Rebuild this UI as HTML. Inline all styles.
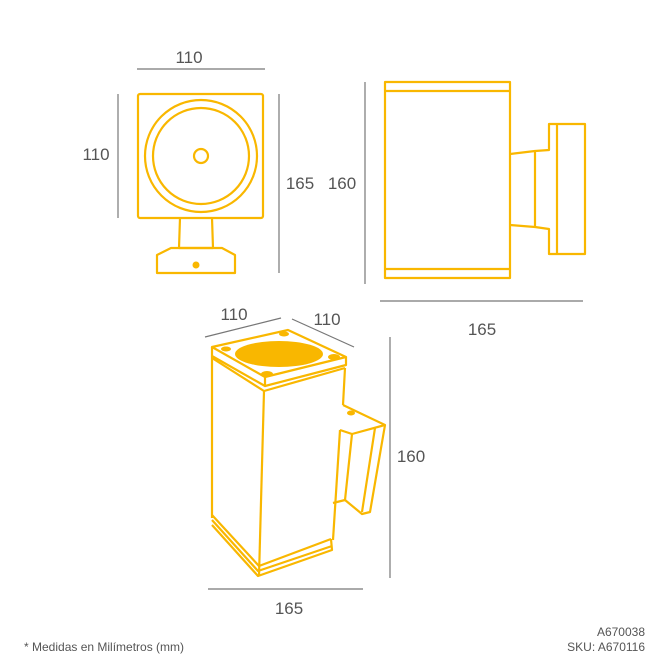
<!DOCTYPE html>
<html><head><meta charset="utf-8"><style>
body{margin:0;background:#fff}
svg{display:block}
text{font-family:"Liberation Sans",sans-serif;fill:#555}
</style></head><body>
<svg width="668" height="667" viewBox="0 0 668 667">
<g stroke="#777" stroke-width="1.2" fill="none">
<line x1="137" y1="69" x2="265" y2="69"/>
<line x1="118" y1="94" x2="118" y2="218"/>
<line x1="279" y1="94" x2="279" y2="273"/>
<line x1="365" y1="82" x2="365" y2="284"/>
<line x1="380" y1="301" x2="583" y2="301"/>
<line x1="205" y1="337" x2="281" y2="318"/>
<line x1="292" y1="319" x2="354" y2="347"/>
<line x1="390" y1="337" x2="390" y2="578"/>
<line x1="208" y1="589" x2="363" y2="589"/>
</g>
<g font-size="17">
<text x="189" y="63" text-anchor="middle">110</text>
<text x="96" y="160" text-anchor="middle">110</text>
<text x="300" y="189" text-anchor="middle">165</text>
<text x="342" y="189" text-anchor="middle">160</text>
<text x="482" y="335" text-anchor="middle">165</text>
<text x="234" y="320" text-anchor="middle">110</text>
<text x="327" y="325" text-anchor="middle">110</text>
<text x="411" y="462" text-anchor="middle">160</text>
<text x="289" y="614" text-anchor="middle">165</text>
</g>
<text x="24" y="651" font-size="12">* Medidas en Milímetros (mm)</text>
<text x="645" y="636" font-size="12" text-anchor="end">A670038</text>
<text x="645" y="651" font-size="12" text-anchor="end">SKU: A670116</text>
<g stroke="#F9B700" stroke-width="2.2" fill="none" stroke-linejoin="round">
<!-- front view -->
<rect x="138" y="94" width="125" height="124" rx="2"/>
<circle cx="201" cy="156" r="56"/>
<circle cx="201" cy="156" r="48"/>
<circle cx="201" cy="156" r="7"/>
<path d="M180 218 L179 248 L213 248 L212 218"/>
<path d="M157 273 L157 255 L171 248 L222 248 L235 255 L235 273 Z"/>
<!-- side view -->
<rect x="385" y="82" width="125" height="196"/>
<line x1="385" y1="91" x2="510" y2="91"/>
<line x1="385" y1="269" x2="510" y2="269"/>
<path d="M510 154 L535 151 L549 150 L549 124 L585 124 L585 254 L549 254 L549 229 L535 227 L510 225"/>
<line x1="535" y1="151" x2="535" y2="227"/>
<line x1="557" y1="124" x2="557" y2="254"/>
<!-- iso view -->
<path d="M212 347 L288 330 L346 357 L265 377 Z"/>
<path d="M212 347 L212 356 L265 386 L346 365 L346 357"/>
<path d="M265 377 L265 386"/>
<path d="M212 358 L264 391 L345 368"/>
<path d="M264 391 L259 576"/>
<path d="M212 356 L212 518"/>
<path d="M345 368 L343 405 M340 430 L333 540"/>
<path d="M212 515 L259 566 L331 539 M212 520 L258 571 L332 546 M212 525 L258 576 L332 550 L331 539"/>
<path d="M343 405 L385 425 L370 512 L362 514 L345 500 L333 503"/>
<path d="M340 430 L352 434 L385 425 M352 434 L345 500 M375 428 L362 512"/>
</g>
<g fill="#F9B700">
<ellipse cx="279" cy="354" rx="44" ry="13"/>
<ellipse cx="226" cy="349" rx="5" ry="2.5"/>
<ellipse cx="284" cy="334" rx="5" ry="2.5"/>
<ellipse cx="334" cy="357" rx="6" ry="3"/>
<ellipse cx="267" cy="374" rx="6" ry="3"/>
<ellipse cx="351" cy="413" rx="4" ry="2.5"/>
<circle cx="196" cy="265" r="3.5"/>
</g>
</svg>
</body></html>
